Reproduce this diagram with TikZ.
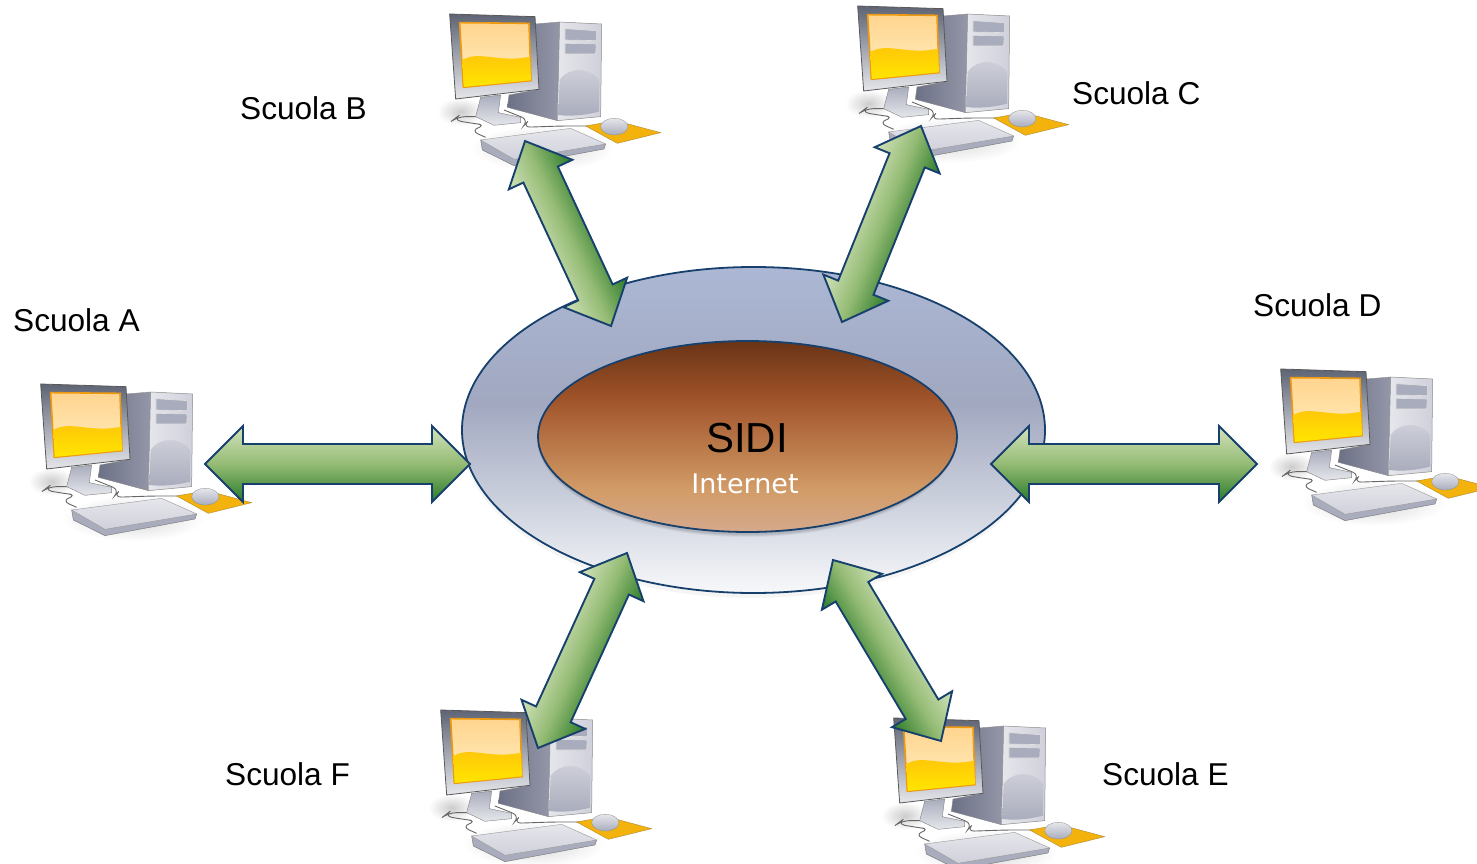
\documentclass[tikz,border=0pt]{standalone}
\usepackage{fontspec}
\setmainfont{Liberation Sans}
\newfontfamily\internetfont{DejaVu Sans}
\usetikzlibrary{calc,shapes.geometric}
\definecolor{arrowline}{HTML}{17406D}
\definecolor{ringA}{HTML}{F7F8FA}
\definecolor{ringB}{HTML}{C9CEDB}
\definecolor{ringC}{HTML}{A1A8C0}
\definecolor{ringD}{HTML}{ABB7D4}
\definecolor{coreA}{HTML}{D5A98C}
\definecolor{coreB}{HTML}{D29C68}
\definecolor{coreC}{HTML}{A05329}
\definecolor{coreD}{HTML}{693416}
\definecolor{frameDark}{HTML}{5E6474}
\definecolor{greenLight}{HTML}{D3E3BC}
\definecolor{greenMid}{HTML}{94BB74}
\definecolor{greenDark}{HTML}{2A7A2A}
\definecolor{caseLight}{HTML}{E6E7EC}
\definecolor{caseMid}{HTML}{CFD0DA}
\definecolor{caseDark}{HTML}{A9ACBC}
\definecolor{caseSide}{HTML}{6D7186}
\definecolor{caseSideB}{HTML}{9497A8}
\definecolor{screenTop}{HTML}{FFD48F}
\definecolor{screenPale}{HTML}{FFEFC0}
\definecolor{screenWave}{HTML}{FFC30A}
\definecolor{screenLow}{HTML}{FFE600}
\definecolor{screenEdge}{HTML}{EE9A10}
\definecolor{padFill}{HTML}{F3B20C}
\definecolor{padEdge}{HTML}{B08A30}
\pgfdeclareverticalshading{ringshade}{100bp}{color(0bp)=(ringA);color(25bp)=(ringA);color(40bp)=(ringB);color(54bp)=(ringC);color(75bp)=(ringD);color(100bp)=(ringD)}
\pgfdeclareverticalshading{coreshade}{100bp}{color(0bp)=(coreA);color(25bp)=(coreA);color(36bp)=(coreB);color(60bp)=(coreC);color(75bp)=(coreD);color(100bp)=(coreD)}
\pgfdeclareverticalshading{arrowshade}{100bp}{color(0bp)=(greenDark);color(25bp)=(greenDark);color(50bp)=(greenMid);color(75bp)=(greenLight);color(100bp)=(greenLight)}
\tikzset{
  label text/.style={font=\fontsize{31.6}{36}\selectfont,inner sep=0pt,anchor=west,text=black},
  ring line/.style={ellipse,inner sep=0pt,draw=arrowline,line width=1.8pt},
  computer/.pic={
    \begin{scope}[x=.3333pt,y=-.3333pt]
    % soft shadows
    \shade[inner color=black!20,outer color=white] (95,335) ellipse [x radius=70,y radius=42];
    \shade[inner color=black!16,outer color=white] (340,445) ellipse [x radius=215,y radius=68];
    % tower side
    \path[left color=caseSide,right color=caseSideB,draw=black!45,line width=.4pt]
      (318,72) -- (392,66) -- (385,362) -- (235,322) -- (240,285) -- (330,268) -- cycle;
    % tower front
    \path[left color=caseLight,right color=caseMid,draw=black!45,line width=.5pt]
      (392,66) -- (518,72) -- (515,350) -- (385,362) -- cycle;
    % drive bays
    \path[fill=caseDark,draw=black!12,line width=.6pt] (408,86) -- (502,92) -- (502,122) -- (408,120) -- cycle;
    \path[fill=caseDark,draw=black!12,line width=.6pt] (408,130) -- (502,132) -- (500,162) -- (408,162) -- cycle;
    % case oval
    \path[top color=caseMid,bottom color=caseDark]
      (392,240) .. controls (420,200) and (480,200) .. (511,240) -- (510,335) .. controls (470,345) and (430,350) .. (388,345) -- cycle;
    % cables
    \draw[black!60,line width=.9pt,rounded corners=8pt]
      (150,350) -- (85,350) -- (72,360) -- (130,370) -- (170,375) -- (125,392) -- (170,412);
    \draw[black!60,line width=.9pt,rounded corners=8pt]
      (225,330) -- (300,360) -- (280,382) -- (400,378) -- (490,378);
    % stand
    \path[top color=caseDark,bottom color=caseLight,draw=black!50,line width=.4pt]
      (155,292) -- (215,285) -- (208,338) -- (275,352) -- (275,368) -- (195,376) -- (140,350) -- cycle;
    % monitor
    \path[top color=frameDark,middle color=caseDark,bottom color=caseLight,draw=black!65,line width=.8pt]
      (62,42) -- (318,50) -- (330,268) -- (80,297) -- cycle;
    \path[top color=screenTop,bottom color=screenPale,draw=screenEdge,line width=1.6pt]
      (92,68) -- (300,70) -- (306,242) -- (103,262) -- cycle;
    \path[top color=screenWave,bottom color=screenLow]
      (100,180) .. controls (150,150) and (210,190) .. (303,170) -- (306,241) -- (104,261) -- cycle;
    % keyboard
    \path[fill=caseDark,draw=black!55,line width=.4pt]
      (155,420) -- (160,450) -- (255,497) -- (525,447) -- (530,432) -- cycle;
    \path[top color=caseLight,bottom color=caseMid,draw=black!40,line width=.4pt]
      (155,420) -- (425,385) -- (530,432) -- (255,478) -- cycle;
    % mouse pad and mouse
    \path[fill=padFill,draw=padEdge,line width=.4pt]
      (470,378) -- (560,362) -- (695,398) -- (565,430) -- cycle;
    \shade[top color=caseLight,bottom color=caseDark,draw=black!45,line width=.3pt]
      (556,380) ellipse [x radius=41,y radius=25];
    \end{scope}
  }
}
% block arrow from one named coordinate to another; the light side is on the left of the way it runs
\newcommand\blockarrow[5]{%
  \pgfpointanchor{#1}{center}\pgfgetlastxy\xa\ya
  \pgfpointanchor{#2}{center}\pgfgetlastxy\xb\yb
  \pgfmathsetmacro\arrang{atan2(\yb-\ya,\xb-\xa)}%
  \pgfmathsetmacro\arrlen{veclen(\xb-\xa,\yb-\ya)}%
  \pgfmathsetmacro\arrin{\arrlen-#5}%
  \begin{scope}[transform canvas={shift={(\xa,\ya)},rotate=\arrang},x=1pt,y=1pt]
    \path[shade,shading=arrowshade,draw=arrowline,line width=1.9pt,line join=miter]
      (0,0) -- (#5,#3) -- (#5,#4) -- (\arrin,#4) -- (\arrin,#3) -- (\arrlen,0)
      -- (\arrin,-#3) -- (\arrin,-#4) -- (#5,-#4) -- (#5,-#3) -- cycle;
  \end{scope}}
\begin{document}
\begin{tikzpicture}[x=1pt,y=-1pt]
\clip (0,0) rectangle (1477,864);
\fill[white] (0,0) rectangle (1477,864);
% computers
\pic (pcA) at (20,370) {computer};
\pic (pcB) at (429,0) {computer};
\pic (pcC) at (837,-8) {computer};
\pic (pcD) at (1260,355) {computer};
\pic (pcE) at (873,704) {computer};
\pic (pcF) at (420,696) {computer};
% ellipses
\path[fill=black,opacity=.04] (753,434) ellipse [x radius=292,y radius=164];
\node[ring line,shade,shading=ringshade,minimum width=583pt,minimum height=326pt] (hub) at (753.5,430) {};
\foreach \g/\o in {3/.05,2/.06,1/.08}{
  \path[fill=black,opacity=\o] (747,439) ellipse [x radius=207+\g,y radius=95+\g];
}
\node[ring line,shade,shading=coreshade,minimum width=419pt,minimum height=191pt] (core) at (747.5,436.5) {};
\node[inner sep=0pt,font=\fontsize{42}{46}\selectfont,text=black] (sidi) at (747,438) {SIDI};
\node[inner sep=0pt,font=\internetfont\fontsize{27}{30}\selectfont,text=white] (inet) at (745,483.5) {Internet};
% arrow ends
\coordinate (aL) at (205,464); \coordinate (aR) at (470,464);
\coordinate (dL) at (991,464); \coordinate (dR) at (1257,464);
\coordinate (bB) at (611,326); \coordinate (bT) at (525,141);
\coordinate (cB) at (842,322); \coordinate (cT) at (921,126);
\coordinate (eT) at (833,560); \coordinate (eB) at (941,741);
\coordinate (fB) at (538,748); \coordinate (fT) at (627,553);
\blockarrow{aL}{aR}{38}{20}{38}
\blockarrow{dL}{dR}{38}{20}{38}
\blockarrow{bB}{bT}{35}{19}{37}
\blockarrow{cB}{cT}{35}{19}{37}
\blockarrow{eT}{eB}{35}{19}{37}
\blockarrow{fB}{fT}{35}{19}{37}
% labels
\node[label text] (sa) at (13,320) {Scuola A};
\node[label text] (sb) at (240,108) {Scuola B};
\node[label text] (sc) at (1072,93) {Scuola C};
\node[label text] (sd) at (1253,305) {Scuola D};
\node[label text] (se) at (1102,774) {Scuola E};
\node[label text] (sf) at (225,774) {Scuola F};
\end{tikzpicture}
\end{document}
